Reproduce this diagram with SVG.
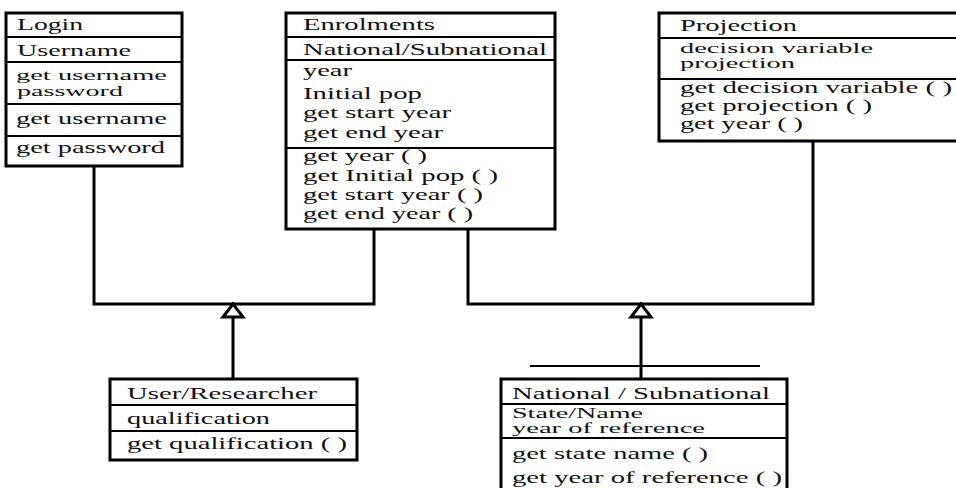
<svg xmlns="http://www.w3.org/2000/svg" width="956" height="488" viewBox="0 0 956 488">
<style>
  .box { fill: #fff; stroke: #000; stroke-width: 3; }
  .div { stroke: #000; stroke-width: 2; fill: none; }
  .conn { stroke: #000; stroke-width: 3; fill: none; }
  .tri { fill: #fff; stroke: #000; stroke-width: 3; stroke-linejoin: miter; }
  text { font-family: "Liberation Serif", "DejaVu Serif", "Times New Roman", serif; font-size: 17px; fill: #111; }
  .tight { font-size: 15px; }
  .tighter { font-size: 14px; }
</style>
<rect width="956" height="488" fill="#fff"/>
<g id="connectors">
  <polyline class="conn" points="94,166 94,304 374,304 374,229"/>
  <polyline class="conn" points="468,229 468,304 813,304 813,141"/>
  <line class="conn" x1="233" y1="317" x2="233" y2="379"/>
  <line class="conn" x1="641" y1="317" x2="641" y2="379"/>
  <line class="div" x1="530" y1="366" x2="760" y2="366"/>
  <polygon class="tri" points="233,304 223,317 243,317"/>
  <polygon class="tri" points="641,304 631,317 651,317"/>
</g>
<g id="login">
  <rect class="box" x="6" y="13" width="176" height="153"/>
  <line class="div" x1="6" y1="37" x2="182" y2="37"/>
  <line class="div" x1="6" y1="62" x2="182" y2="62"/>
  <line class="div" x1="6" y1="104" x2="182" y2="104"/>
  <line class="div" x1="6" y1="136" x2="182" y2="136"/>
  <text x="17" y="30" textLength="66" lengthAdjust="spacingAndGlyphs">Login</text>
  <text x="17" y="56" textLength="114" lengthAdjust="spacingAndGlyphs">Username</text>
  <text class="tight" x="16" y="80" textLength="151" lengthAdjust="spacingAndGlyphs">get username</text>
  <text class="tight" x="17" y="96" textLength="106" lengthAdjust="spacingAndGlyphs">password</text>
  <text x="16" y="124" textLength="151" lengthAdjust="spacingAndGlyphs">get username</text>
  <text x="16" y="153" textLength="149" lengthAdjust="spacingAndGlyphs">get password</text>
</g>
<g id="enrolments">
  <rect class="box" x="286" y="13" width="269" height="216"/>
  <line class="div" x1="286" y1="37" x2="555" y2="37"/>
  <line class="div" x1="286" y1="60" x2="555" y2="60"/>
  <line class="div" x1="286" y1="148" x2="555" y2="148"/>
  <text x="303" y="30" textLength="132" lengthAdjust="spacingAndGlyphs">Enrolments</text>
  <text x="303" y="55" textLength="244" lengthAdjust="spacingAndGlyphs">National/Subnational</text>
  <text x="303" y="76" textLength="49" lengthAdjust="spacingAndGlyphs">year</text>
  <text x="303" y="99" textLength="119" lengthAdjust="spacingAndGlyphs">Initial pop</text>
  <text x="303" y="118" textLength="148" lengthAdjust="spacingAndGlyphs">get start year</text>
  <text x="303" y="138" textLength="140" lengthAdjust="spacingAndGlyphs">get end year</text>
  <text x="303" y="161" textLength="124" lengthAdjust="spacingAndGlyphs">get year ( )</text>
  <text x="303" y="181" textLength="195" lengthAdjust="spacingAndGlyphs">get Initial pop ( )</text>
  <text x="303" y="200" textLength="180" lengthAdjust="spacingAndGlyphs">get start year ( )</text>
  <text x="303" y="219" textLength="170" lengthAdjust="spacingAndGlyphs">get end year ( )</text>
</g>
<g id="projection">
  <rect class="box" x="659" y="13" width="302" height="128"/>
  <line class="div" x1="659" y1="38" x2="961" y2="38"/>
  <line class="div" x1="659" y1="79" x2="961" y2="79"/>
  <text x="680" y="31" textLength="117" lengthAdjust="spacingAndGlyphs">Projection</text>
  <text class="tighter" x="680" y="53" textLength="193" lengthAdjust="spacingAndGlyphs">decision variable</text>
  <text class="tighter" x="680" y="68" textLength="115" lengthAdjust="spacingAndGlyphs">projection</text>
  <text x="680" y="93" textLength="272" lengthAdjust="spacingAndGlyphs">get decision variable ( )</text>
  <text x="680" y="111" textLength="192" lengthAdjust="spacingAndGlyphs">get projection ( )</text>
  <text x="680" y="129" textLength="123" lengthAdjust="spacingAndGlyphs">get year ( )</text>
</g>
<g id="user-researcher">
  <rect class="box" x="110" y="379" width="247" height="81"/>
  <line class="div" x1="110" y1="405" x2="357" y2="405"/>
  <line class="div" x1="110" y1="431" x2="357" y2="431"/>
  <text x="127" y="399" textLength="190" lengthAdjust="spacingAndGlyphs">User/Researcher</text>
  <text x="127" y="424" textLength="143" lengthAdjust="spacingAndGlyphs">qualification</text>
  <text x="127" y="449" textLength="220" lengthAdjust="spacingAndGlyphs">get qualification ( )</text>
</g>
<g id="national-subnational">
  <rect class="box" x="501" y="379" width="286" height="115"/>
  <line class="div" x1="501" y1="404" x2="787" y2="404"/>
  <line class="div" x1="501" y1="438" x2="787" y2="438"/>
  <text x="512" y="399" textLength="258" lengthAdjust="spacingAndGlyphs">National / Subnational</text>
  <text class="tighter" x="512" y="418" textLength="131" lengthAdjust="spacingAndGlyphs">State/Name</text>
  <text class="tighter" x="512" y="433" textLength="193" lengthAdjust="spacingAndGlyphs">year of reference</text>
  <text x="512" y="459" textLength="196" lengthAdjust="spacingAndGlyphs">get state name ( )</text>
  <text x="512" y="483" textLength="270" lengthAdjust="spacingAndGlyphs">get year of reference ( )</text>
</g>
</svg>
